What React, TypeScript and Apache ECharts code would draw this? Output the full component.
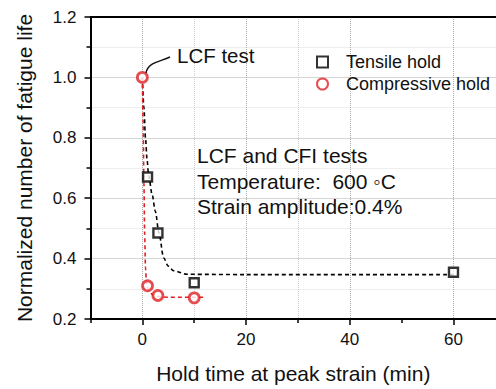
import React, { useEffect, useRef } from "react";
import * as echarts from "echarts";

const tensileHold: [number, number][] = [
  [1, 0.67],
  [3, 0.485],
  [10, 0.32],
  [60, 0.355],
];
const compressiveHold: [number, number][] = [
  [0, 1.0],
  [1, 0.31],
  [3, 0.278],
  [10, 0.27],
];
// dashed fit curves
const tensileFit: [number, number][] = [
  [0, 1.0], [0.3, 0.9], [0.6, 0.8], [0.9, 0.73], [1.2, 0.676], [1.9, 0.611],
  [2.5, 0.557], [3.2, 0.485], [4.1, 0.403], [5, 0.375], [6, 0.36], [8.6, 0.348], [20, 0.347], [60, 0.347],
];
const compressiveFit: [number, number][] = [
  [0, 1.0], [0.15, 0.85], [0.3, 0.65], [0.45, 0.48], [0.6, 0.37], [0.8, 0.32],
  [1.2, 0.295], [2, 0.28], [3, 0.274], [5, 0.272], [11.8, 0.272],
];
const legendNames = ["Tensile hold", "Compressive hold"];
const xTickLabels = [0, 20, 40, 60];
const xMinorTicks = [-10, 10, 30, 50];
const annotationLines = ["LCF and CFI tests", "Temperature:  600 ◦C", "Strain amplitude:0.4%"];

const FONT = "Liberation Sans, Arial, sans-serif";
const RED = "#e02024";
const X_MIN = -10;
const X_MAX = 68.2;

export default function App() {
  const ref = useRef<HTMLDivElement>(null);
  useEffect(() => {
    const chart = echarts.init(ref.current!, null, { renderer: "svg" });
    chart.setOption({
      animation: false,
      backgroundColor: "#fff",
      textStyle: { fontFamily: FONT },
      grid: { left: 90.5, top: 17, bottom: 67, right: 0, show: false },
      legend: {
        orient: "vertical", left: 311, top: 48, itemGap: 4,
        itemWidth: 11, itemHeight: 11,
        data: legendNames,
        textStyle: { fontSize: 18, color: "#111", fontFamily: FONT, padding: [0, 0, 0, 13] },
      },
      xAxis: [
        {
          type: "value", min: X_MIN, max: X_MAX, interval: 10,
          name: "Hold time at peak strain (min)", nameLocation: "middle", nameGap: 44,
          nameTextStyle: { fontSize: 21, color: "#111", fontFamily: FONT },
          axisLine: { show: true, onZero: false, lineStyle: { color: "#000", width: 2 } },
          axisTick: { show: true, inside: false, length: 6, lineStyle: { width: 1.5, color: "#000" }, customValues: xTickLabels },
          axisLabel: { fontSize: 17, color: "#111", margin: 12, customValues: xTickLabels },
          splitLine: { show: true, lineStyle: { type: "dotted", color: "#aaa", width: 1 } },
        },
        {
          type: "value", min: X_MIN, max: X_MAX, interval: 10, position: "bottom",
          axisLine: { show: false, onZero: false },
          axisTick: { show: true, length: 4, lineStyle: { width: 1.5, color: "#000" }, customValues: xMinorTicks },
          axisLabel: { show: false },
          splitLine: { show: true, showMinLine: false, showMaxLine: false, lineStyle: { type: "dotted", color: "#ccc", width: 1 } },
        },
        {
          type: "value", min: X_MIN, max: X_MAX, position: "top",
          axisLine: { show: true, onZero: false, lineStyle: { color: "#000", width: 2 } },
          axisTick: { show: false },
          axisLabel: { show: false },
          splitLine: { show: false },
        },
      ],
      yAxis: {
        type: "value", min: 0.2, max: 1.2, interval: 0.2,
        name: "Normalized number of fatigue life", nameLocation: "middle", nameGap: 56,
        nameTextStyle: { fontSize: 21, color: "#111", fontFamily: FONT },
        axisLine: { show: true, onZero: false, lineStyle: { color: "#000", width: 2 } },
        axisTick: { show: true, length: 6, lineStyle: { width: 1.5, color: "#000" } },
        minorTick: { show: true, splitNumber: 2, length: 4, lineStyle: { width: 1.5, color: "#000" } },
        axisLabel: { fontSize: 17, color: "#111", margin: 14, formatter: (v: number) => v.toFixed(1) },
        splitLine: { show: true, lineStyle: { type: "dotted", color: "#aaa", width: 1 } },
        minorSplitLine: { show: true, lineStyle: { type: "dotted", color: "#ddd", width: 1 } },
      },
      series: [
        {
          type: "line", data: tensileFit, smooth: 0.3, smoothMonotone: "x", symbol: "none", silent: true,
          lineStyle: { color: "#000", width: 1.6, type: [4, 3] }, z: 2,
        },
        {
          type: "line", data: compressiveFit, smooth: 0.3, smoothMonotone: "x", symbol: "none", silent: true,
          lineStyle: { color: RED, width: 1.6, type: [4, 3] }, z: 2,
        },
        {
          name: legendNames[0], type: "scatter", data: tensileHold, symbol: "rect", symbolSize: 9,
          itemStyle: { color: "#fff", borderColor: "#000", borderWidth: 2.4 }, z: 3,
        },
        {
          name: legendNames[1], type: "scatter", data: compressiveHold, symbol: "circle", symbolSize: 10,
          itemStyle: { color: "#fff", borderColor: RED, borderWidth: 2.8 }, z: 4,
        },
      ],
      graphic: [
        {
          type: "bezierCurve",
          shape: { x1: 146, y1: 73, cpx1: 148, cpy1: 62, cpx2: 160, cpy2: 62, x2: 170, y2: 57 },
          style: { stroke: "#111", lineWidth: 1.4, fill: "none" },
          z: 10,
        },
        {
          type: "text", left: 177, top: 45,
          style: { text: "LCF test", fontSize: 20.5, fill: "#111", fontFamily: FONT },
          z: 10,
        },
        {
          type: "text", left: 197, top: 143,
          style: { text: annotationLines.join("\n"), fontSize: 21, lineHeight: 25.5, fill: "#111", fontFamily: FONT },
          z: 10,
        },
      ],
    });
    return () => chart.dispose();
  }, []);
  return <div ref={ref} style={{ width: 496, height: 389, position: "absolute", left: 0, top: 0 }} />;
}
